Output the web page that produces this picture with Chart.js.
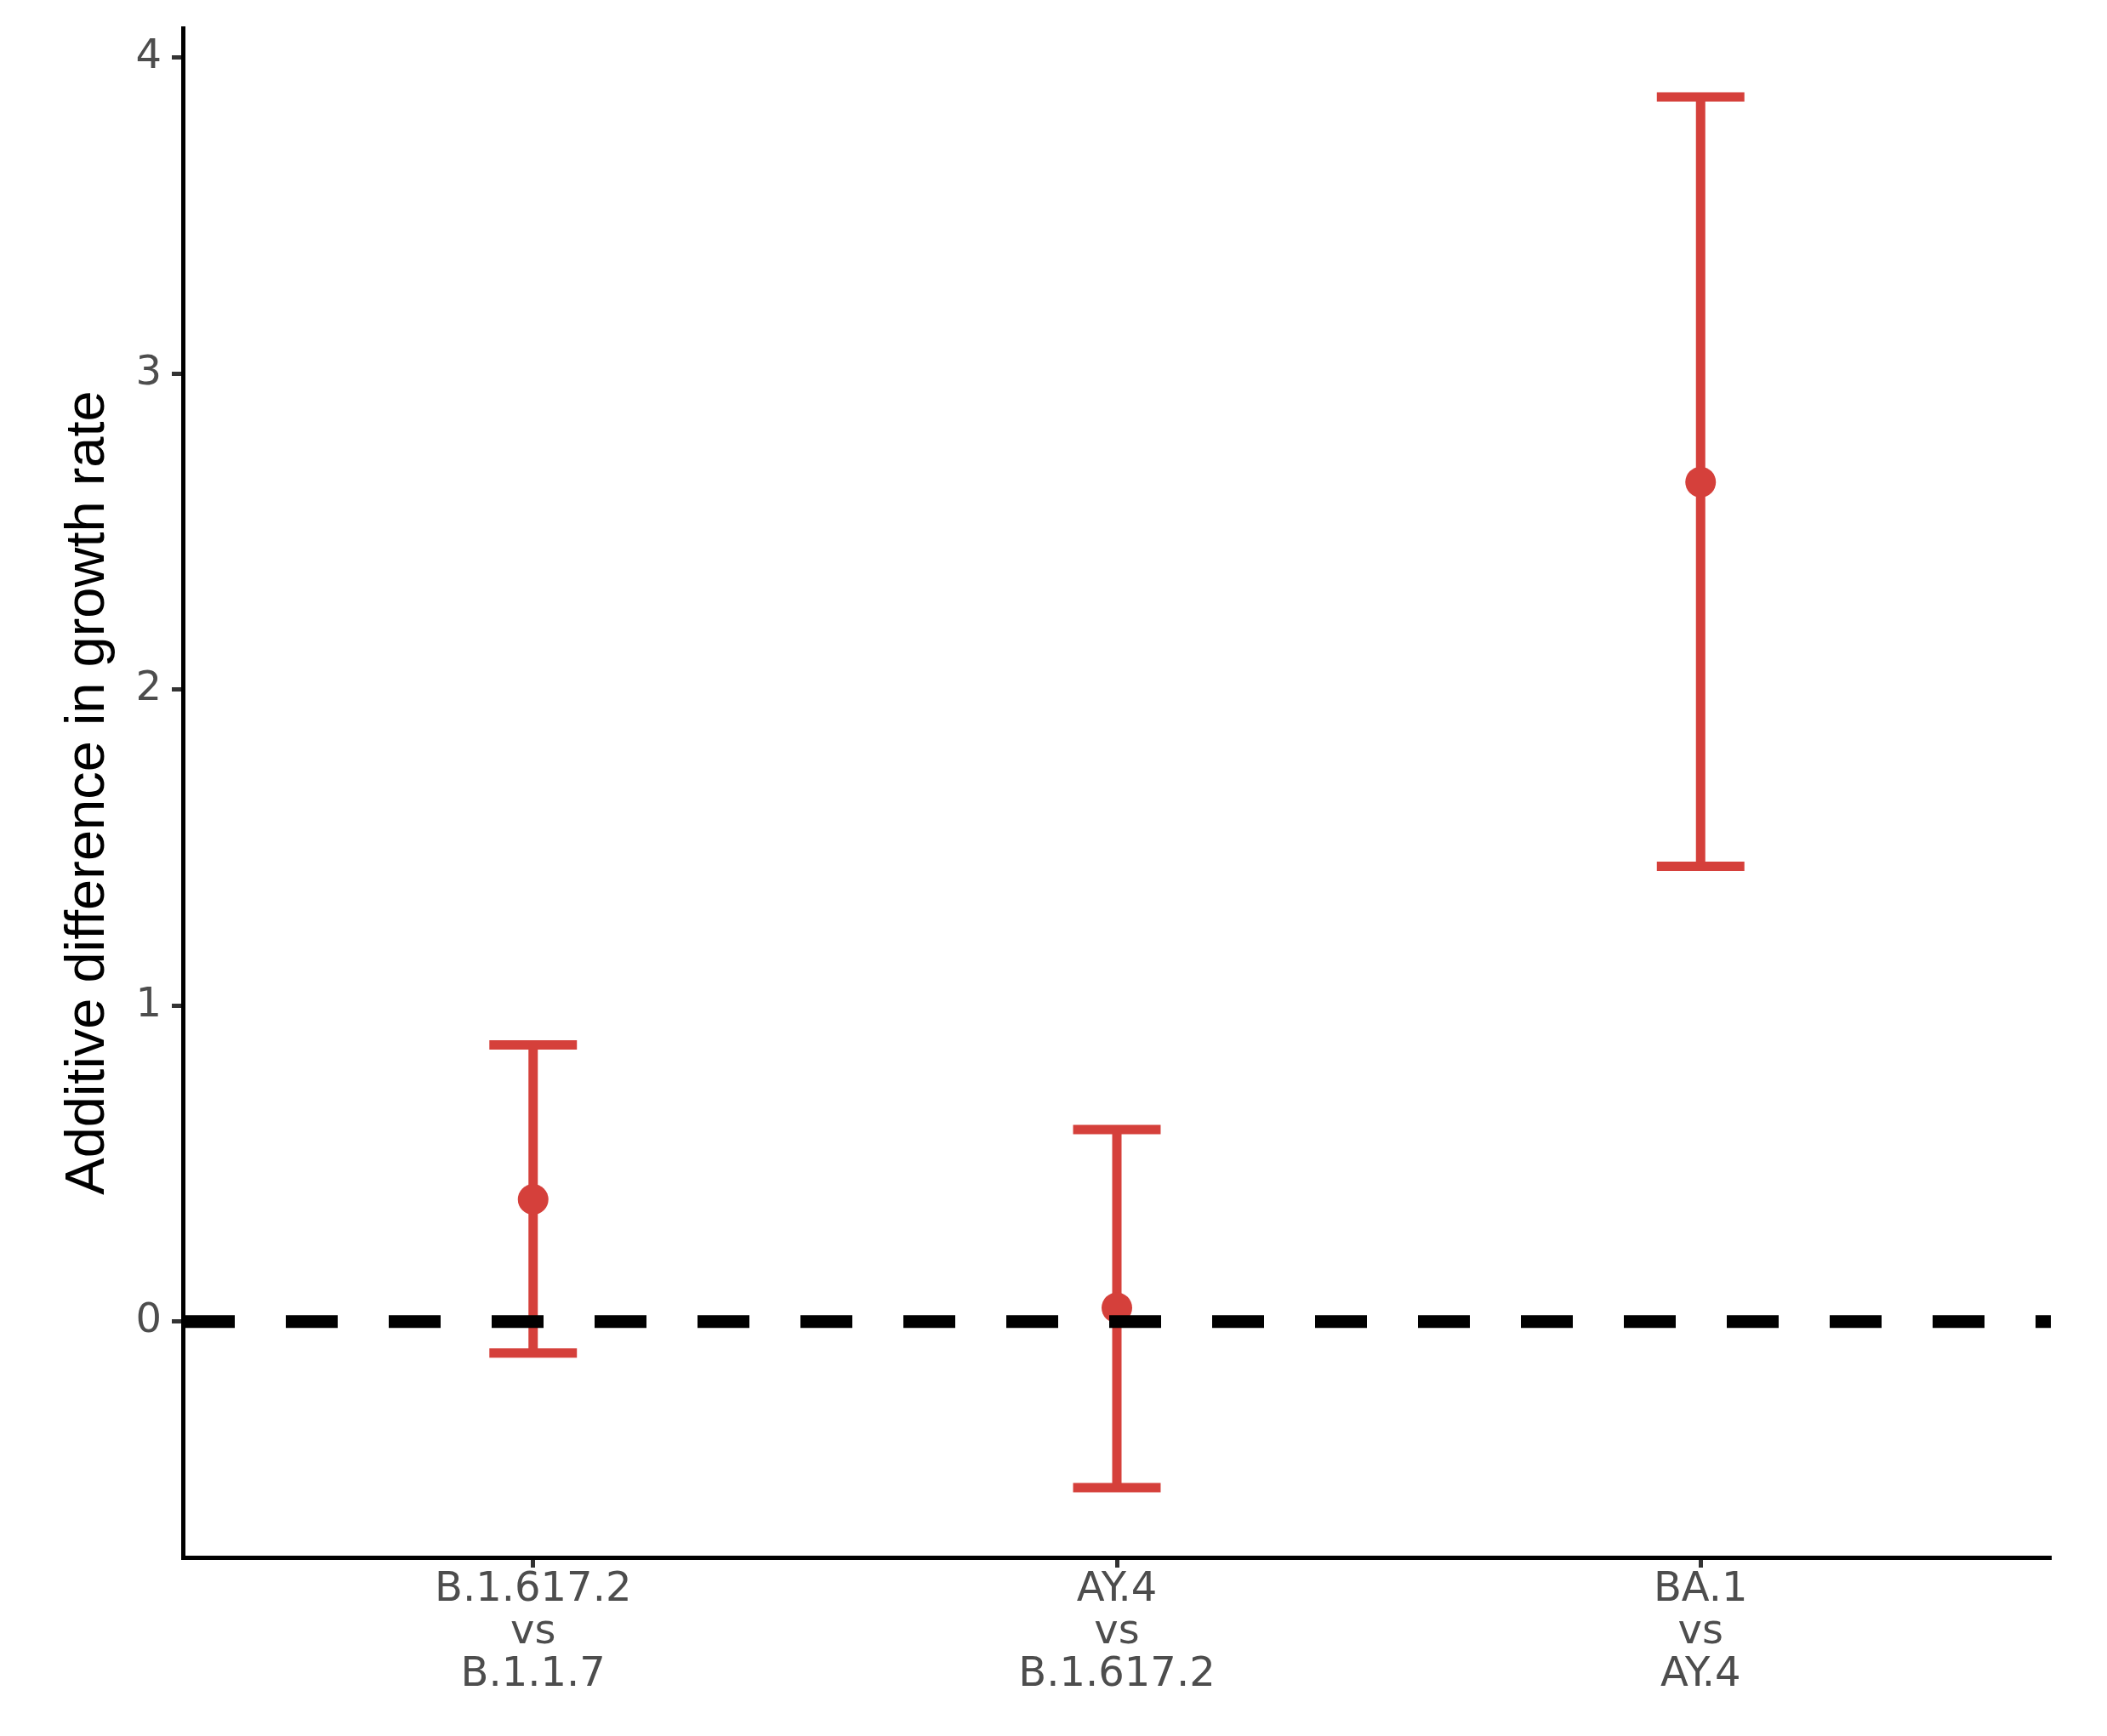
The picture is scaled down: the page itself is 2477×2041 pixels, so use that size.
<!DOCTYPE html>
<html>
<head>
<meta charset="utf-8">
<script src="https://cdn.jsdelivr.net/npm/chart.js@4.4.1/dist/chart.umd.min.js"></script>
<style>
  html, body { margin: 0; padding: 0; background: #fff; }
  #wrap { width: 2477px; height: 2041px; }
</style>
</head>
<body>
<div id="wrap"><canvas id="growth-chart"></canvas></div>
<script>
// newer variant vs the one it replaced
const variantNew = ['B.1.617.2', 'AY.4', 'BA.1'];
const variantOld = ['B.1.1.7', 'B.1.617.2', 'AY.4'];

// additive difference in growth rate, with interval
const estimate = [0.387, 0.044, 2.657];
const lowerCI = [-0.099, -0.525, 1.441];
const upperCI = [0.876, 0.608, 3.876];

const xTicks = [1, 2, 3];
const yTicks = [0, 1, 2, 3, 4];
const refLine = 0;

const RED = 'rgb(213,64,59)';
const capHalf = 0.075;
const xMin = 0.4, xMax = 3.6;
const yMin = -0.746, yMax = 4.094;

document.addEventListener('DOMContentLoaded', () => {
    const ctx = document.getElementById('growth-chart');

    const datasets = [];

    // dashed reference line at zero (drawn on top)
    datasets.push({
        type: 'line',
        data: [{ x: xMin, y: refLine }, { x: xMax, y: refLine }],
        borderColor: '#000',
        borderWidth: 15,
        borderDash: [61, 60],
        borderCapStyle: 'butt',
        pointRadius: 0,
        order: 0
    });

    // the point estimates
    datasets.push({
        type: 'scatter',
        data: estimate.map((v, i) => ({ x: xTicks[i], y: v })),
        backgroundColor: RED,
        borderWidth: 0,
        pointRadius: 18,
        order: 1
    });

    // error bars: stem + two caps
    estimate.forEach((_, i) => {
        const x = xTicks[i];
        const lineStyle = {
            type: 'line',
            borderColor: RED,
            borderCapStyle: 'butt',
            borderWidth: 11,
            pointRadius: 0,
            tension: 0,
            order: 2
        };
        datasets.push(Object.assign({}, lineStyle, {
            data: [{ x: x, y: lowerCI[i] }, { x: x, y: upperCI[i] }]
        }));
        datasets.push(Object.assign({}, lineStyle, {
            data: [{ x: x - capHalf, y: upperCI[i] }, { x: x + capHalf, y: upperCI[i] }]
        }));
        datasets.push(Object.assign({}, lineStyle, {
            data: [{ x: x - capHalf, y: lowerCI[i] }, { x: x + capHalf, y: lowerCI[i] }]
        }));
    });

    const tickFamily = '"DejaVu Sans", "Liberation Sans", Arial, sans-serif';

    new Chart(ctx, {
        type: 'scatter',
        data: { datasets },
        options: {
            responsive: true,
            maintainAspectRatio: false,
            animation: false,
            layout: { padding: { top: 33, right: 66, bottom: 0, left: 0 } },
            plugins: {
                legend: { display: false },
                tooltip: { enabled: false }
            },
            scales: {
                x: {
                    type: 'linear',
                    min: xMin,
                    max: xMax,
                    afterBuildTicks: s => { s.ticks = xTicks.map(v => ({ value: v })); },
                    afterFit: s => { s.height = 210; s.paddingLeft = 0; s.paddingRight = 0; },
                    grid: {
                        display: true,
                        drawOnChartArea: false,
                        drawTicks: true,
                        tickLength: 12,
                        tickWidth: 5,
                        tickColor: '#333333'
                    },
                    border: { display: true, color: '#000', width: 5 },
                    ticks: {
                        color: '#4D4D4D',
                        font: { family: tickFamily, size: 48, lineHeight: 1.05 },
                        padding: 1,
                        maxRotation: 0,
                        autoSkip: false,
                        callback: v => {
                            const i = xTicks.indexOf(v);
                            return i < 0 ? '' : [variantNew[i], 'vs', variantOld[i]];
                        }
                    }
                },
                y: {
                    min: yMin,
                    max: yMax,
                    afterBuildTicks: s => { s.ticks = yTicks.map(v => ({ value: v })); },
                    afterFit: s => { s.width = 215; s.paddingTop = 0; s.paddingBottom = 0; },
                    grid: {
                        display: true,
                        drawOnChartArea: false,
                        drawTicks: true,
                        tickLength: 13,
                        tickWidth: 5,
                        tickColor: '#333333'
                    },
                    border: { display: true, color: '#000', width: 5 },
                    ticks: {
                        color: '#4D4D4D',
                        font: { family: tickFamily, size: 48 },
                        padding: 12,
                        callback: v => String(v)
                    },
                    title: {
                        display: true,
                        text: 'Additive difference in growth rate',
                        color: '#000',
                        font: { family: '"Liberation Sans", Arial, sans-serif', size: 65, lineHeight: 1.2 },
                        padding: { top: 65, bottom: 0 }
                    }
                }
            }
        }
    });
});
</script>
</body>
</html>
